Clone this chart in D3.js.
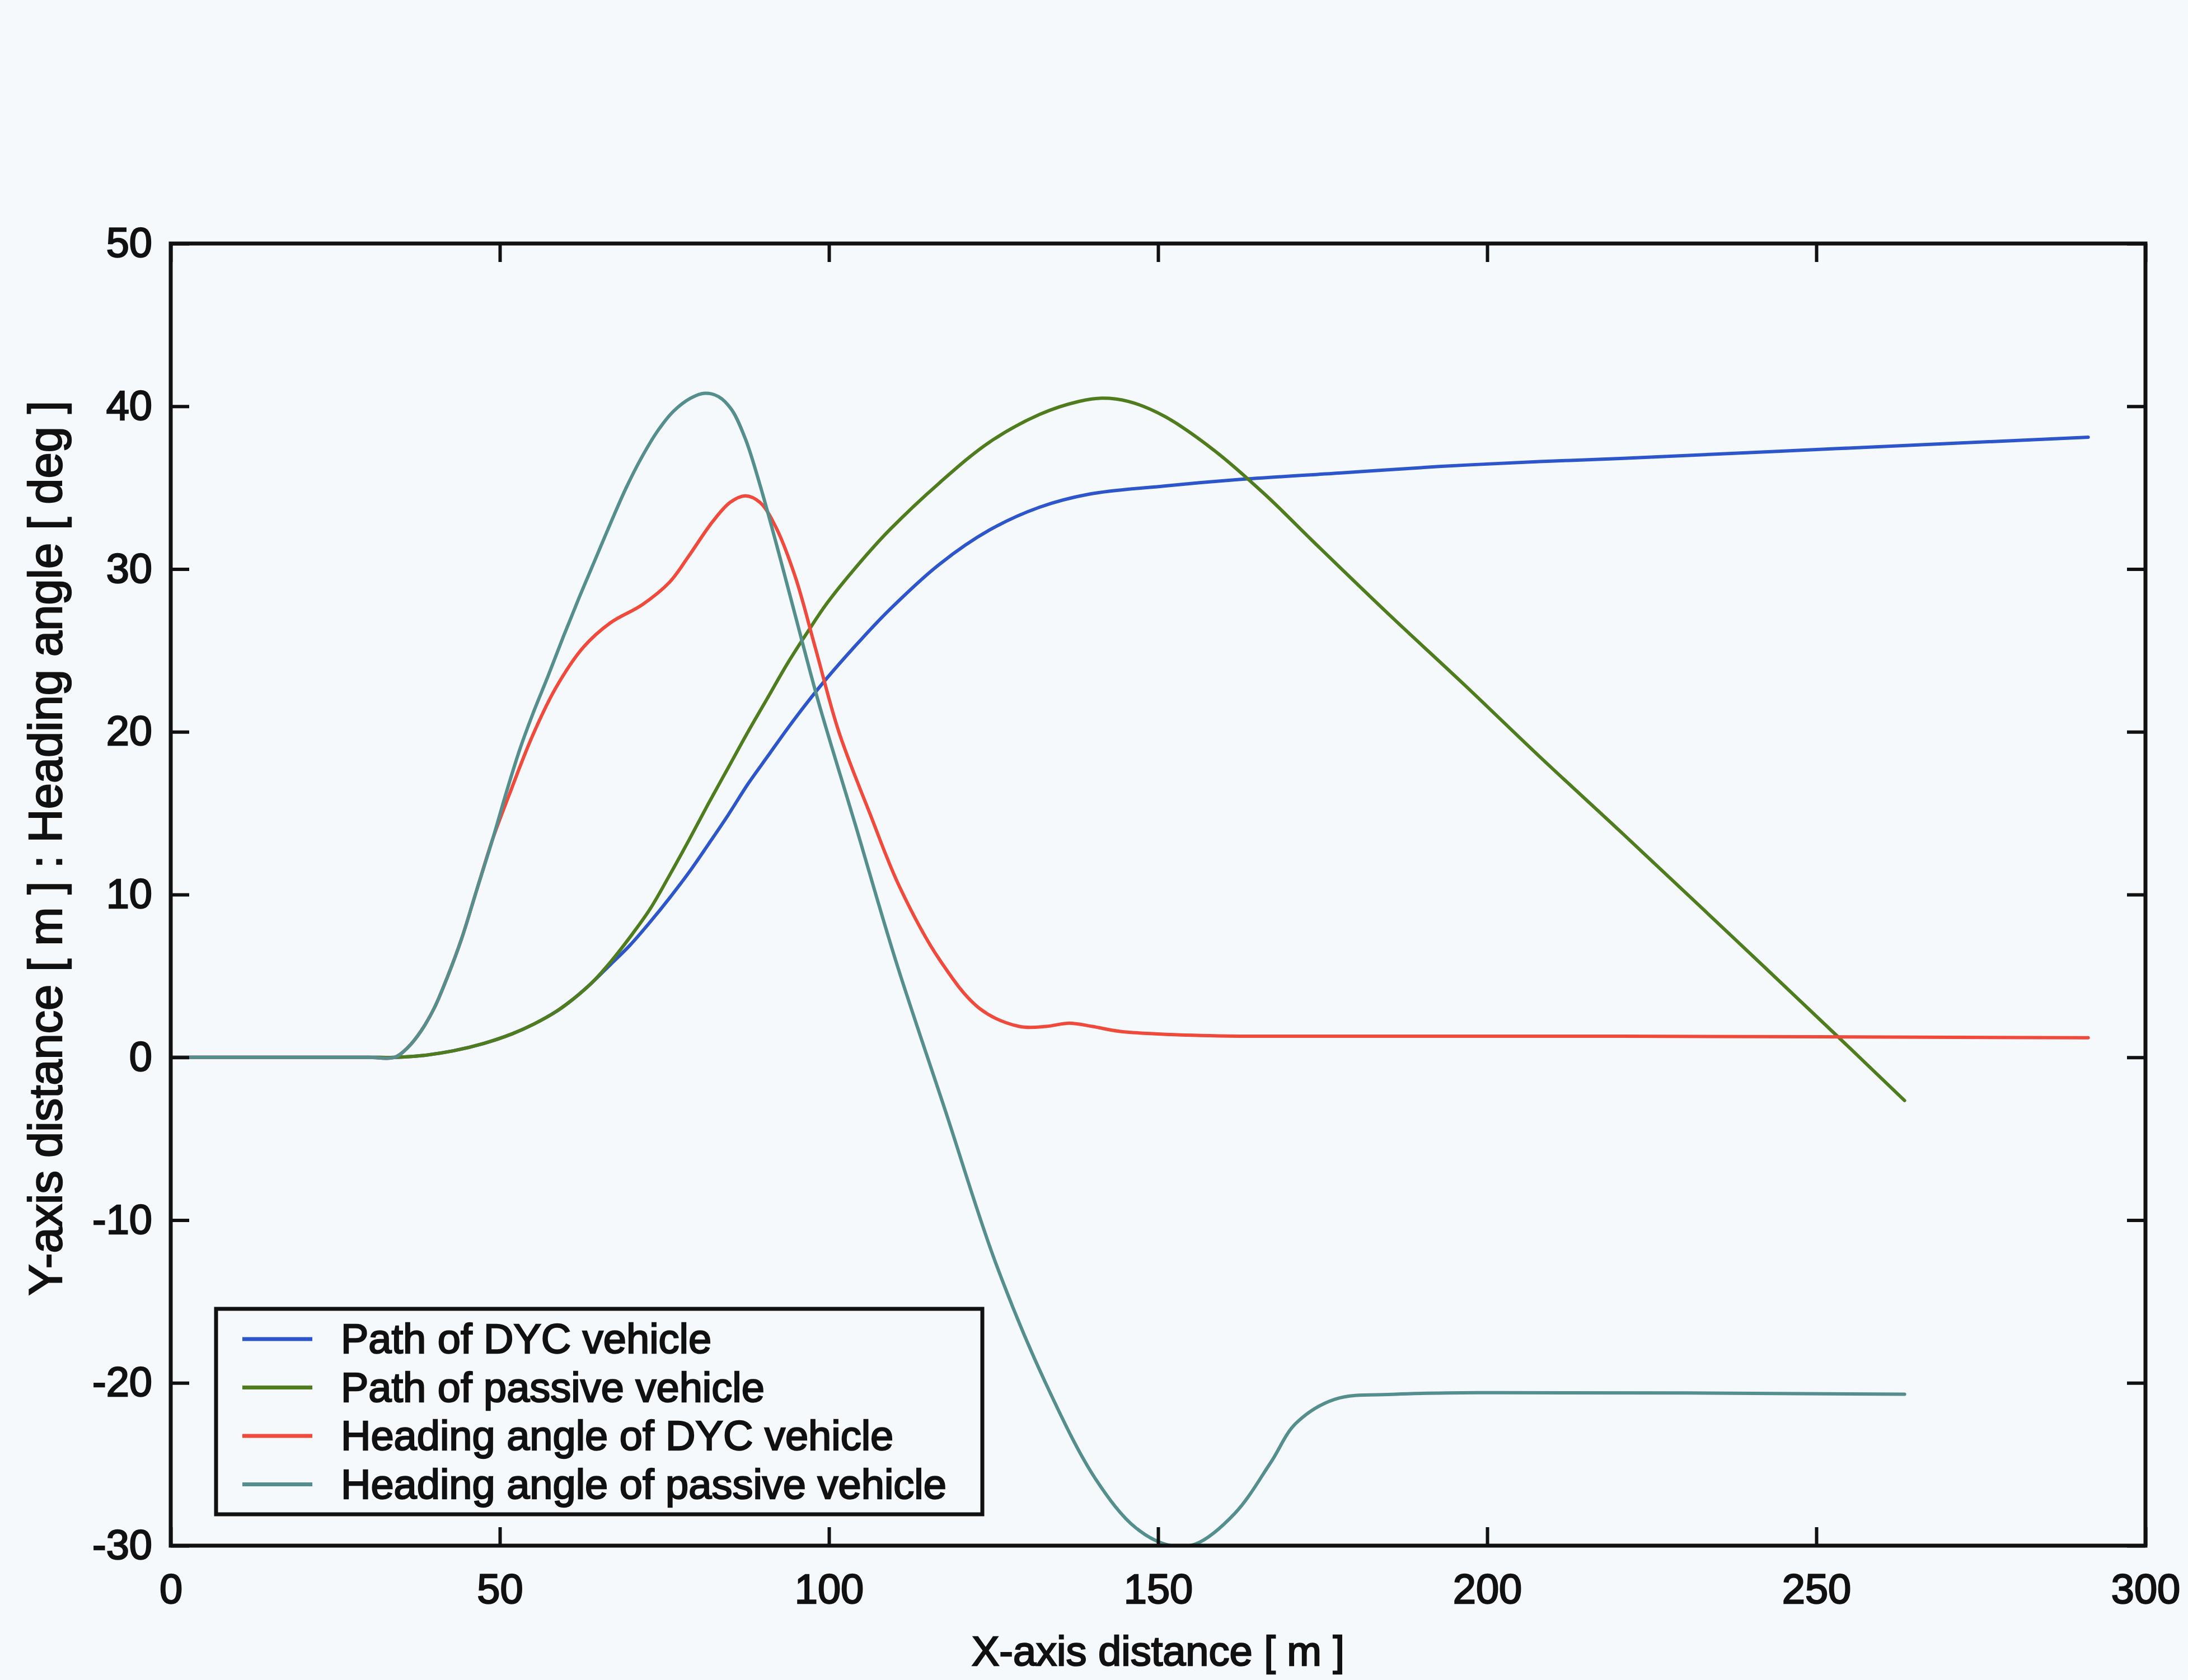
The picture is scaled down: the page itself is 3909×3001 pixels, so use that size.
<!DOCTYPE html>
<html>
<head>
<meta charset="utf-8">
<script src="https://cdn.jsdelivr.net/npm/d3@7"></script>
<style>
  html, body { margin: 0; padding: 0; background: #f5f9fc; }
  svg { display: block; }
  text { font-family: "Liberation Sans", Arial, Helvetica, sans-serif; fill: #111; stroke: #111; stroke-width: 2.4px; }
</style>
</head>
<body>
<svg id="chart" width="3909" height="3001"></svg>
<script>
// ---- data ----
const xTicks = [0, 50, 100, 150, 200, 250, 300];
const yTicks = [-30, -20, -10, 0, 10, 20, 30, 40, 50];

const seriesNames = [
  "Path of DYC vehicle",
  "Path of passive vehicle",
  "Heading angle of DYC vehicle",
  "Heading angle of passive vehicle"
];
const seriesColors = ["#2d55cc", "#4f7d1e", "#f04a3c", "#548f8d"];

const pathDYC_x = [0, 10, 20, 30, 34, 38, 42.9, 47.5, 51.9, 55.2, 58.5, 61.2, 63.9, 66.8, 69.8, 72.8, 75.8, 78.8, 81.7, 84.7, 87.7, 90.7, 93.7, 96.7, 99.7, 104.5, 109.2, 116.8, 124.4, 132.0, 139.5, 150.9, 162.3, 177.5, 192.7, 207.9, 220.7, 253.2, 291.3];
const pathDYC_y = [0, 0, 0, 0, 0, 0.1, 0.4, 0.85, 1.45, 2.05, 2.8, 3.6, 4.55, 5.7, 6.9, 8.3, 9.8, 11.4, 13.1, 14.9, 16.8, 18.5, 20.2, 21.8, 23.3, 25.5, 27.5, 30.3, 32.4, 33.8, 34.6, 35.1, 35.5, 35.9, 36.3, 36.6, 36.8, 37.4, 38.1];

const pathPassive_x = [0, 10, 20, 30, 34, 38, 42.9, 47.5, 51.9, 55.2, 58.5, 61.2, 63.9, 66.8, 69.8, 72.8, 75.8, 78.8, 81.7, 84.7, 87.7, 90.7, 93.7, 96.7, 99.7, 104.5, 109.2, 116.8, 124.4, 132.0, 138.0, 141.5, 145.5, 150.9, 158.5, 166.2, 173.8, 185.1, 196.5, 207.9, 220.7, 237.0, 253.2, 263.4];
const pathPassive_y = [0, 0, 0, 0, 0, 0.1, 0.4, 0.85, 1.45, 2.05, 2.8, 3.6, 4.55, 5.85, 7.4, 9.1, 11.2, 13.4, 15.6, 17.8, 20.0, 22.1, 24.2, 26.1, 27.9, 30.3, 32.4, 35.3, 37.8, 39.5, 40.3, 40.5, 40.3, 39.4, 37.3, 34.6, 31.6, 27.2, 22.9, 18.5, 13.7, 7.5, 1.3, -2.65];

const headingDYC_x = [0, 10, 20, 30, 34, 36, 38, 40, 42, 44.2, 46.5, 48.9, 51.3, 54.9, 58.5, 62.7, 66.8, 71.6, 75.8, 78.7, 82.3, 85.0, 87.3, 89.5, 91.9, 94.9, 97.9, 101.5, 106.2, 110.7, 116.8, 122.9, 128.9, 133.0, 136.5, 140.0, 144.1, 152.0, 162.3, 220.7, 291.3];
const headingDYC_y = [0, 0, 0, 0, 0, 0.6, 1.6, 3.0, 4.9, 7.3, 10.3, 13.4, 16.0, 19.7, 22.7, 25.2, 26.7, 27.8, 29.2, 30.8, 32.9, 34.1, 34.5, 34.1, 32.6, 29.5, 25.2, 20.0, 15.0, 10.5, 6.0, 3.0, 1.9, 1.9, 2.1, 1.9, 1.6, 1.4, 1.3, 1.3, 1.2];

const headingPassive_x = [0, 10, 20, 30, 34, 36, 38, 40, 42, 44.2, 46.5, 48.9, 51.0, 53.1, 55.2, 57.3, 59.7, 62.1, 64.5, 66.8, 69.2, 71.6, 74.0, 76.4, 79.0, 81.1, 83.2, 85.2, 87.3, 89.5, 92.5, 95.5, 98.5, 104.0, 110.1, 117.7, 125.3, 132.9, 140.5, 146.6, 151.9, 155.7, 161.7, 167.1, 170.9, 176.9, 186.1, 201.2, 263.4];
const headingPassive_y = [0, 0, 0, 0, 0, 0.6, 1.6, 3.0, 4.9, 7.3, 10.3, 13.4, 16.3, 19.0, 21.3, 23.4, 25.9, 28.3, 30.6, 32.8, 35.0, 36.9, 38.5, 39.7, 40.5, 40.8, 40.6, 39.8, 38.0, 35.2, 30.8, 26.2, 21.7, 14.3, 6.0, -3.3, -12.6, -20.0, -25.9, -28.9, -30.0, -29.9, -28.0, -24.9, -22.5, -21.0, -20.7, -20.6, -20.7];

const xLabel = "X-axis distance [ m ]";
const yLabel = "Y-axis distance [ m ] : Heading angle [ deg ]";

// ---- layout ----
const plot = { left: 305, right: 3833, top: 435, bottom: 2761 };
const fontSize = 74;
const tickLen = 33;

const svg = d3.select("#chart");
const x = d3.scaleLinear().domain([0, 300]).range([plot.left, plot.right]);
const y = d3.scaleLinear().domain([-30, 50]).range([plot.bottom, plot.top]);

const zip = (xs, ys) => xs.map((v, i) => ({ x: v, y: ys[i] }));
const series = [
  zip(pathDYC_x, pathDYC_y),
  zip(pathPassive_x, pathPassive_y),
  zip(headingDYC_x, headingDYC_y),
  zip(headingPassive_x, headingPassive_y)
];

svg.append("defs").append("clipPath").attr("id", "plotclip")
  .append("rect")
  .attr("x", plot.left).attr("y", plot.top)
  .attr("width", plot.right - plot.left).attr("height", plot.bottom - plot.top);

// lines
const line = d3.line().x(d => x(d.x)).y(d => y(d.y)).curve(d3.curveCatmullRom.alpha(0.5));
svg.append("g").attr("clip-path", "url(#plotclip)")
  .selectAll("path").data(series).join("path")
  .attr("d", line)
  .attr("fill", "none")
  .attr("stroke", (d, i) => seriesColors[i])
  .attr("stroke-width", 6)
  .attr("stroke-linejoin", "round")
  .attr("stroke-linecap", "round");

// axes
const fmt = d => String(d);
function styleAxis(g) {
  g.select(".domain").remove();
  g.selectAll(".tick line").attr("stroke", "#111").attr("stroke-width", 6);
  g.selectAll(".tick text").attr("font-size", fontSize).attr("fill", "#111")
    .attr("font-family", '"Liberation Sans", Arial, sans-serif');
}
svg.append("g").attr("transform", `translate(0,${plot.bottom})`)
  .call(d3.axisBottom(x).tickValues(xTicks).tickSize(-tickLen).tickPadding(50).tickFormat(fmt))
  .call(styleAxis);
svg.append("g").attr("transform", `translate(0,${plot.top})`)
  .call(d3.axisTop(x).tickValues(xTicks).tickSize(-tickLen).tickFormat(""))
  .call(styleAxis);
svg.append("g").attr("transform", `translate(${plot.left},0)`)
  .call(d3.axisLeft(y).tickValues(yTicks).tickSize(-tickLen).tickPadding(33).tickFormat(fmt))
  .call(styleAxis);
svg.append("g").attr("transform", `translate(${plot.right},0)`)
  .call(d3.axisRight(y).tickValues(yTicks).tickSize(-tickLen).tickFormat(""))
  .call(styleAxis);

// frame
svg.append("rect")
  .attr("x", plot.left).attr("y", plot.top)
  .attr("width", plot.right - plot.left).attr("height", plot.bottom - plot.top)
  .attr("fill", "none").attr("stroke", "#111").attr("stroke-width", 7);

// axis titles
svg.append("text")
  .attr("x", (plot.left + plot.right) / 2).attr("y", 2975)
  .attr("text-anchor", "middle").attr("font-size", fontSize)
  .text(xLabel);
svg.append("text")
  .attr("transform", `translate(110,1515) rotate(-90)`)
  .attr("text-anchor", "middle").attr("font-size", 83)
  .text(yLabel);

// legend
const lg = svg.append("g");
lg.append("rect")
  .attr("x", 386).attr("y", 2338).attr("width", 1369).attr("height", 367)
  .attr("fill", "#f5f9fc").attr("stroke", "#111").attr("stroke-width", 7);
const rowH = 86.5;
seriesNames.forEach((name, i) => {
  const base = 2417 + i * rowH;
  lg.append("line")
    .attr("x1", 433).attr("x2", 558)
    .attr("y1", base - 25).attr("y2", base - 25)
    .attr("stroke", seriesColors[i]).attr("stroke-width", 7);
  lg.append("text")
    .attr("x", 609).attr("y", base)
    .attr("font-size", fontSize)
    .text(name);
});
</script>
</body>
</html>
